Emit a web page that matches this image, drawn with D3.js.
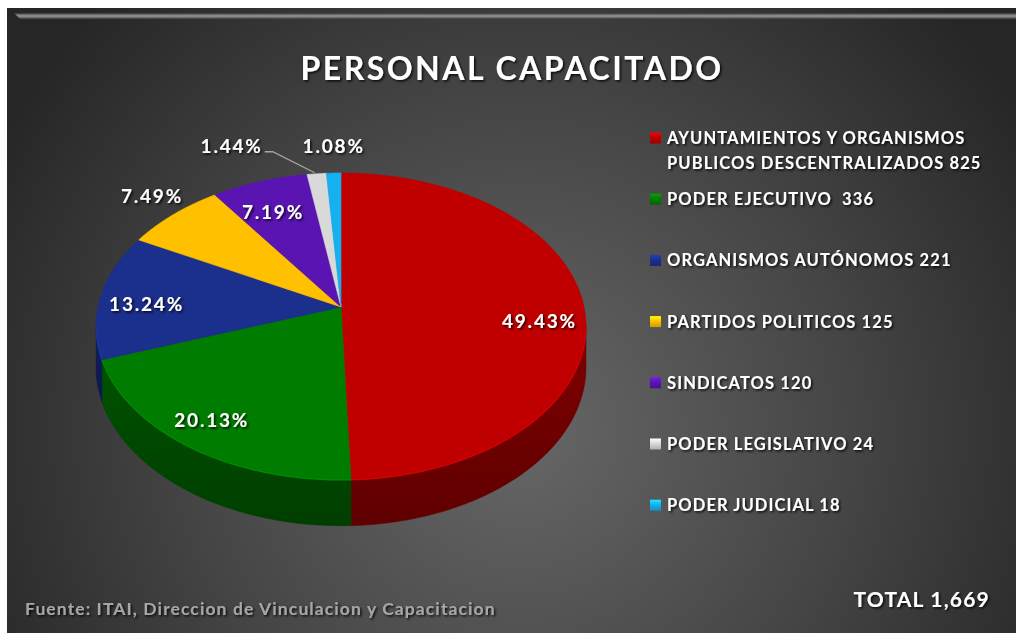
<!DOCTYPE html>
<html><head><meta charset="utf-8">
<script src="https://cdn.jsdelivr.net/npm/d3@7"></script>
<style>
html,body{margin:0;padding:0;background:#fff;}
svg{display:block;}
text{font-family:Lato,"Open Sans",sans-serif;font-weight:700;}
</style></head>
<body><svg id="chart" width="1016" height="633"></svg>
<script>
// ---- data ----
const title = "PERSONAL CAPACITADO";
const categories = ["AYUNTAMIENTOS Y ORGANISMOS PUBLICOS DESCENTRALIZADOS","PODER EJECUTIVO","ORGANISMOS AUTÓNOMOS","PARTIDOS POLITICOS","SINDICATOS","PODER LEGISLATIVO","PODER JUDICIAL"];
const values = [825, 336, 221, 125, 120, 24, 18];
const legendLines = [["AYUNTAMIENTOS Y ORGANISMOS","PUBLICOS DESCENTRALIZADOS 825"],["PODER EJECUTIVO  336"],["ORGANISMOS AUTÓNOMOS 221"],["PARTIDOS POLITICOS 125"],["SINDICATOS 120"],["PODER LEGISLATIVO 24"],["PODER JUDICIAL 18"]];
const totalLabel = "TOTAL 1,669";
const sourceLabel = "Fuente: ITAI, Direccion de Vinculacion y Capacitacion";

// ---- style ----
const topColors  = ["#C00000","#007D00","#1B2F8C","#FFC000","#5A14B2","#D9D9D9","#16B0EE"];
const sideColors = ["#6A0000","#004500","#0F1A52","#A07800","#340A6A","#8A8A8A","#0B6E95"];
// label placement: [radius factor, dx, dy]
const labelPlace = [[0.81,2,17],[0.8,-10,4],[0.8,-2,6],[1.1,-6,-10],[0.78,-3,5],[1.0,-85,-27],[1.0,0,-27]];

const svg = d3.select("#chart");
const W = 1016, H = 633;
const defs = svg.append("defs");

const bg = defs.append("radialGradient").attr("id","bg").attr("gradientUnits","userSpaceOnUse")
  .attr("cx",520).attr("cy",430).attr("r",600);
bg.append("stop").attr("offset",0).attr("stop-color","#676767");
bg.append("stop").attr("offset",0.55).attr("stop-color","#454545");
bg.append("stop").attr("offset",1).attr("stop-color","#262626");

const bevel = defs.append("linearGradient").attr("id","bevel").attr("x1",0).attr("y1",0).attr("x2",0).attr("y2",1);
bevel.append("stop").attr("offset",0).attr("stop-color","#333");
bevel.append("stop").attr("offset",0.5).attr("stop-color","#9a9a9a");
bevel.append("stop").attr("offset",1).attr("stop-color","#3a3a3a");

const sh = defs.append("filter").attr("id","shadow").attr("x","-10%").attr("y","-30%").attr("width","120%").attr("height","160%");
sh.append("feDropShadow").attr("dx",1.5).attr("dy",1.5).attr("stdDeviation",1.2).attr("flood-color","#000").attr("flood-opacity",0.85);

// frame
svg.append("rect").attr("x",7).attr("y",8).attr("width",W-7).attr("height",H-8).attr("fill","url(#bg)");
svg.append("path").attr("d","M14,13 L1016,13 L1016,19 L20,19 Z").attr("fill","url(#bevel)");

// title
svg.append("text").attr("x",512).attr("y",80).attr("text-anchor","middle")
  .attr("font-size",32).attr("letter-spacing",2.5).attr("fill","#fff").attr("filter","url(#shadow)").text(title);

// ---- pie (perspective-projected circle) ----
const cx = 341, cy = 307, A = 243, B = 151, k = 0.127, D = 40;
const pie = d3.pie().sort(null).value(d => d);
const arcs = pie(values);
const total = d3.sum(values);
const pct = d3.format(".2%");
function proj(a, f = 1, drop = 0) {
  const u = f * Math.sin(a), v = -f * Math.cos(a);
  const s = 1 / (1 - k * v);
  return [cx + A * u * s, cy + B * v * s + drop * s];
}
const sampleAngles = (s, e) => {
  const n = Math.max(2, Math.ceil((e - s) / 0.01));
  return d3.range(n + 1).map(j => s + (e - s) * j / n);
};
const visLo = Math.acos(-k), visHi = 2 * Math.PI - Math.acos(-k);

const g = svg.append("g");
// side walls
arcs.forEach((a, i) => {
  const s = Math.max(a.startAngle, visLo), e = Math.min(a.endAngle, visHi);
  if (e <= s) return;
  const angs = sampleAngles(s, e);
  const pts = angs.map(t => proj(t)).concat(angs.slice().reverse().map(t => proj(t, 1, D)));
  const gid = "side" + i;
  const lg = defs.append("linearGradient").attr("id", gid).attr("x1",0).attr("y1",0).attr("x2",0).attr("y2",1);
  lg.append("stop").attr("offset",0).attr("stop-color", d3.color(sideColors[i]).brighter(0.5));
  lg.append("stop").attr("offset",1).attr("stop-color", d3.color(sideColors[i]).darker(0.3));
  g.append("path").attr("d", d3.line()(pts) + "Z").attr("fill", `url(#${gid})`)
    .attr("stroke", sideColors[i]).attr("stroke-width", 0.5);
});
// top faces
arcs.forEach((a, i) => {
  const pts = [proj(0, 0)].concat(sampleAngles(a.startAngle, a.endAngle).map(t => proj(t)));
  g.append("path").attr("d", d3.line()(pts) + "Z").attr("fill", topColors[i])
    .attr("stroke", topColors[i]).attr("stroke-width", 0.6);
});
// rim highlight on front edge
arcs.forEach((a, i) => {
  const s = Math.max(a.startAngle, visLo), e = Math.min(a.endAngle, visHi);
  if (e <= s) return;
  const pts = sampleAngles(s, e).map(t => proj(t));
  g.append("path").attr("d", d3.line()(pts)).attr("fill","none")
    .attr("stroke", d3.color(topColors[i]).brighter(0.6)).attr("stroke-width",1.2).attr("opacity",0.6);
});

// labels
arcs.forEach((a, i) => {
  const mid = (a.startAngle + a.endAngle) / 2;
  const [f, dx, dy] = labelPlace[i];
  const p = proj(mid, f);
  const x = p[0] + dx, y = p[1] + dy;
  const t = svg.append("text").attr("x", x).attr("y", y).attr("dy","0.35em").attr("text-anchor","middle")
    .attr("font-size",19).attr("letter-spacing",1.8).attr("fill","#fff").attr("filter","url(#shadow)")
    .text(pct(a.value / total));
  if (i === 5) {
    const bb = t.node().getBBox();
    const x0 = bb.x + bb.width + 2, yl = y + 5;
    const edge = proj(mid, 1);
    g.append("path").attr("d", d3.line()([[x0, yl], [x0 + 8, yl], [edge[0] - 2, edge[1] - 1]]))
      .attr("fill","none").attr("stroke","#A6A6A6").attr("stroke-width",1.3);
  }
});

// legend
const lgX = 650, lgY0 = 138, lgStep = 61.2;
legendLines.forEach((lines, i) => {
  const y = lgY0 + i * lgStep;
  const mg = defs.append("linearGradient").attr("id","mk"+i).attr("x1",0).attr("y1",0).attr("x2",0).attr("y2",1);
  mg.append("stop").attr("offset",0).attr("stop-color", d3.color(topColors[i]).brighter(0.8));
  mg.append("stop").attr("offset",0.45).attr("stop-color", topColors[i]);
  mg.append("stop").attr("offset",1).attr("stop-color", d3.color(topColors[i]).darker(0.6));
  svg.append("rect").attr("x", lgX).attr("y", y - 5.5).attr("width", 11).attr("height", 11).attr("fill", `url(#mk${i})`);
  lines.forEach((ln, j) => {
    svg.append("text").attr("x", lgX + 17).attr("y", y + j * 25).attr("dy","0.36em")
      .attr("font-size",16.5).attr("letter-spacing",1.1).attr("fill","#fff").attr("filter","url(#shadow)")
      .attr("xml:space","preserve").style("white-space","pre").text(ln);
  });
});

// footer
svg.append("text").attr("x",25).attr("y",609).attr("dy","0.35em").attr("font-size",17.5).attr("letter-spacing",1.1)
  .attr("fill","#A6A6A6").attr("font-weight",600).attr("filter","url(#shadow)").text(sourceLabel);
svg.append("text").attr("x",990).attr("y",600).attr("dy","0.35em").attr("text-anchor","end")
  .attr("font-size",21).attr("letter-spacing",1.2).attr("fill","#fff").attr("filter","url(#shadow)").text(totalLabel);
</script></body></html>
